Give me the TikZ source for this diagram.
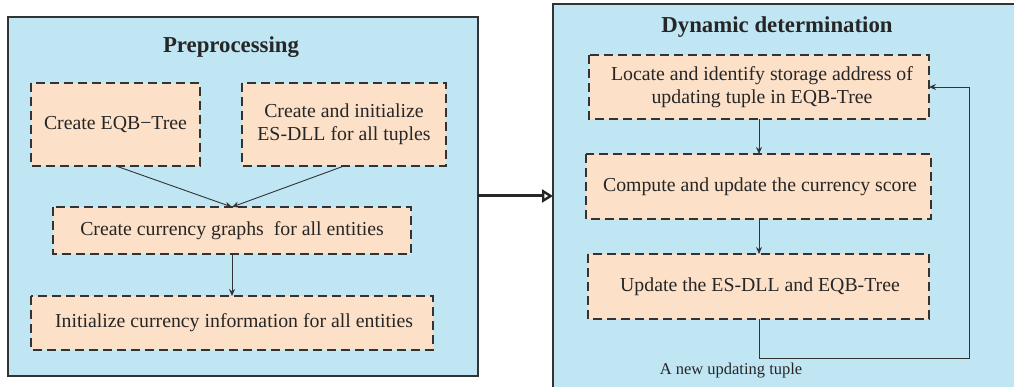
\documentclass[tikz,border=0pt]{standalone}
\usepackage{fontspec}
\setmainfont{Liberation Serif}
\usetikzlibrary{arrows.meta}
\definecolor{panelblue}{RGB}{192,229,243}
\definecolor{peach}{RGB}{252,224,200}
\definecolor{edge}{RGB}{51,51,51}
\begin{document}
\begin{tikzpicture}[x=1pt,y=-1pt,
  panel/.style={draw=edge,line width=1.5pt,fill=panelblue},
  stepbox/.style={draw=edge,line width=1.4pt,dash pattern=on 9pt off 5pt,fill=peach},
  boxtext/.style={font=\fontsize{19.8}{23}\selectfont,align=center,text=black!85},
  title/.style={font=\fontsize{22.8}{27}\selectfont\bfseries,text=black!85},
  conn/.style={draw=edge,line width=0.9pt,-{Stealth[length=7pt,width=6pt]}}]
\clip (0,0) rectangle (1014,387);
% left panel
\draw[panel] (8,17) rectangle (478,376);
\node[title] (t1) at (231,47) {Preprocessing};
\draw[stepbox] (31,83) rectangle (200,166);
\node[boxtext] (a) at (115.5,124.5) {Create EQB−Tree};
\draw[stepbox] (242,83) rectangle (446,166);
\node[boxtext] (b) at (344,124.5) {Create and initialize\\ES-DLL for all tuples};
\draw[stepbox] (53,207) rectangle (411,254);
\node[boxtext] (c) at (232,230.5) {Create currency graphs\ \ for all entities};
\draw[stepbox] (31,296) rectangle (433,350);
\node[boxtext] (d) at (234,323) {Initialize currency information for all entities};
\coordinate (aS) at (116,166);
\coordinate (bS) at (344,166);
\coordinate (cN) at (232,207);
\coordinate (cS) at (232,254);
\coordinate (dN) at (232,296);
\draw[conn] (aS) -- (cN);
\draw[conn] (bS) -- (cN);
\draw[conn] (cS) -- (dN);
% right panel
\draw[panel] (553,4) rectangle (1030,400);
\node[title] (t2) at (777,27) {Dynamic determination};
\draw[stepbox] (589,55) rectangle (929,119);
\node[boxtext] (e) at (762,87) {Locate and identify storage address of\\updating tuple in EQB-Tree};
\draw[stepbox] (586,154) rectangle (931,219);
\node[boxtext] (f) at (760,186.5) {Compute and update the currency score};
\draw[stepbox] (588,254) rectangle (929,319);
\node[boxtext] (g) at (760,286.5) {Update the ES-DLL and EQB-Tree};
\coordinate (eS) at (759,119);
\coordinate (fN) at (759,154);
\coordinate (fS) at (759,219);
\coordinate (gN) at (759,254);
\coordinate (gS) at (759,319);
\coordinate (eE) at (929,87);
\draw[conn] (eS) -- (fN);
\draw[conn] (fS) -- (gN);
\draw[conn] (gS) |- (969,358) |- (eE);
\node[font=\fontsize{16.5}{19}\selectfont,text=black!85] (lab) at (731,371) {A new updating tuple};
% big arrow
\coordinate (L) at (478,196);
\coordinate (R) at (553,196);
\draw[draw=black!85,line width=3pt,-{Triangle[open,length=11pt,width=13pt,line width=2.4pt]}] (L) -- (R);
\end{tikzpicture}
\end{document}
